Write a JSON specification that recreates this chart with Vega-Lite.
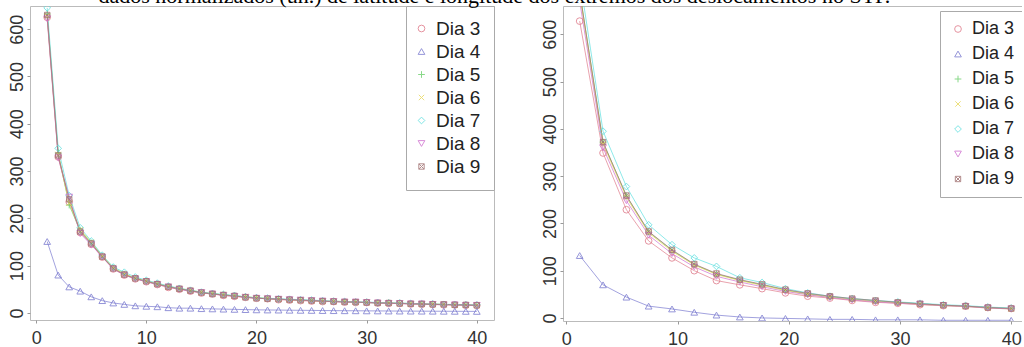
{
"$schema": "https://vega.github.io/schema/vega-lite/v6.json",
"background": "white",
"autosize": {"type": "pad"},
"padding": {"left": 7, "top": -15, "right": -8, "bottom": -2},
"title": {"text": "dados normalizados (un.) de latitude e longitude dos extremos dos deslocamentos no STP.", "font": "Liberation Serif", "fontSize": 22, "fontWeight": "normal", "color": "#000000", "anchor": "start", "dx": 91, "offset": -20, "baseline": "alphabetic"},
"datasets": {
"left": [
{"d":"Dia 3","x":1,"y":625},{"d":"Dia 3","x":2,"y":330},{"d":"Dia 3","x":3,"y":235},{"d":"Dia 3","x":4,"y":170},{"d":"Dia 3","x":5,"y":145},{"d":"Dia 3","x":6,"y":118},{"d":"Dia 3","x":7,"y":93},{"d":"Dia 3","x":8,"y":80},{"d":"Dia 3","x":9,"y":72},{"d":"Dia 3","x":10,"y":66},{"d":"Dia 3","x":11,"y":60},{"d":"Dia 3","x":12,"y":54},{"d":"Dia 3","x":13,"y":50},{"d":"Dia 3","x":14,"y":46},{"d":"Dia 3","x":15,"y":42},{"d":"Dia 3","x":16,"y":40},{"d":"Dia 3","x":17,"y":37},{"d":"Dia 3","x":18,"y":35},{"d":"Dia 3","x":19,"y":33},{"d":"Dia 3","x":20,"y":31},{"d":"Dia 3","x":21,"y":30},{"d":"Dia 3","x":22,"y":28},{"d":"Dia 3","x":23,"y":27},{"d":"Dia 3","x":24,"y":26},{"d":"Dia 3","x":25,"y":25},{"d":"Dia 3","x":26,"y":24},{"d":"Dia 3","x":27,"y":24},{"d":"Dia 3","x":28,"y":23},{"d":"Dia 3","x":29,"y":22},{"d":"Dia 3","x":30,"y":22},{"d":"Dia 3","x":31,"y":21},{"d":"Dia 3","x":32,"y":20},{"d":"Dia 3","x":33,"y":20},{"d":"Dia 3","x":34,"y":19},{"d":"Dia 3","x":35,"y":18},{"d":"Dia 3","x":36,"y":18},{"d":"Dia 3","x":37,"y":17},{"d":"Dia 3","x":38,"y":17},{"d":"Dia 3","x":39,"y":16},{"d":"Dia 3","x":40,"y":16},
{"d":"Dia 4","x":1,"y":151},{"d":"Dia 4","x":2,"y":80},{"d":"Dia 4","x":3,"y":55},{"d":"Dia 4","x":4,"y":46},{"d":"Dia 4","x":5,"y":34},{"d":"Dia 4","x":6,"y":26},{"d":"Dia 4","x":7,"y":21},{"d":"Dia 4","x":8,"y":18},{"d":"Dia 4","x":9,"y":15},{"d":"Dia 4","x":10,"y":14},{"d":"Dia 4","x":11,"y":13},{"d":"Dia 4","x":12,"y":11},{"d":"Dia 4","x":13,"y":10},{"d":"Dia 4","x":14,"y":10},{"d":"Dia 4","x":15,"y":9},{"d":"Dia 4","x":16,"y":8.5},{"d":"Dia 4","x":17,"y":8},{"d":"Dia 4","x":18,"y":7.5},{"d":"Dia 4","x":19,"y":7},{"d":"Dia 4","x":20,"y":6.5},{"d":"Dia 4","x":21,"y":6.2},{"d":"Dia 4","x":22,"y":6},{"d":"Dia 4","x":23,"y":5.7},{"d":"Dia 4","x":24,"y":5.5},{"d":"Dia 4","x":25,"y":5.3},{"d":"Dia 4","x":26,"y":5},{"d":"Dia 4","x":27,"y":4.8},{"d":"Dia 4","x":28,"y":4.6},{"d":"Dia 4","x":29,"y":4.5},{"d":"Dia 4","x":30,"y":4.3},{"d":"Dia 4","x":31,"y":4.2},{"d":"Dia 4","x":32,"y":4},{"d":"Dia 4","x":33,"y":3.9},{"d":"Dia 4","x":34,"y":3.8},{"d":"Dia 4","x":35,"y":3.7},{"d":"Dia 4","x":36,"y":3.6},{"d":"Dia 4","x":37,"y":3.5},{"d":"Dia 4","x":38,"y":3.4},{"d":"Dia 4","x":39,"y":3.3},{"d":"Dia 4","x":40,"y":3.2},
{"d":"Dia 5","x":1,"y":632},{"d":"Dia 5","x":2,"y":338},{"d":"Dia 5","x":3,"y":228},{"d":"Dia 5","x":4,"y":174},{"d":"Dia 5","x":5,"y":148},{"d":"Dia 5","x":6,"y":120},{"d":"Dia 5","x":7,"y":95},{"d":"Dia 5","x":8,"y":82},{"d":"Dia 5","x":9,"y":73},{"d":"Dia 5","x":10,"y":67},{"d":"Dia 5","x":11,"y":61},{"d":"Dia 5","x":12,"y":56},{"d":"Dia 5","x":13,"y":51},{"d":"Dia 5","x":14,"y":47},{"d":"Dia 5","x":15,"y":43},{"d":"Dia 5","x":16,"y":41},{"d":"Dia 5","x":17,"y":38},{"d":"Dia 5","x":18,"y":36},{"d":"Dia 5","x":19,"y":34},{"d":"Dia 5","x":20,"y":32},{"d":"Dia 5","x":21,"y":30},{"d":"Dia 5","x":22,"y":29},{"d":"Dia 5","x":23,"y":28},{"d":"Dia 5","x":24,"y":27},{"d":"Dia 5","x":25,"y":26},{"d":"Dia 5","x":26,"y":25},{"d":"Dia 5","x":27,"y":24},{"d":"Dia 5","x":28,"y":24},{"d":"Dia 5","x":29,"y":23},{"d":"Dia 5","x":30,"y":22},{"d":"Dia 5","x":31,"y":21},{"d":"Dia 5","x":32,"y":21},{"d":"Dia 5","x":33,"y":20},{"d":"Dia 5","x":34,"y":20},{"d":"Dia 5","x":35,"y":19},{"d":"Dia 5","x":36,"y":18},{"d":"Dia 5","x":37,"y":18},{"d":"Dia 5","x":38,"y":17},{"d":"Dia 5","x":39,"y":17},{"d":"Dia 5","x":40,"y":16},
{"d":"Dia 6","x":1,"y":628},{"d":"Dia 6","x":2,"y":335},{"d":"Dia 6","x":3,"y":232},{"d":"Dia 6","x":4,"y":176},{"d":"Dia 6","x":5,"y":150},{"d":"Dia 6","x":6,"y":121},{"d":"Dia 6","x":7,"y":96},{"d":"Dia 6","x":8,"y":83},{"d":"Dia 6","x":9,"y":74},{"d":"Dia 6","x":10,"y":68},{"d":"Dia 6","x":11,"y":62},{"d":"Dia 6","x":12,"y":56},{"d":"Dia 6","x":13,"y":52},{"d":"Dia 6","x":14,"y":48},{"d":"Dia 6","x":15,"y":44},{"d":"Dia 6","x":16,"y":41},{"d":"Dia 6","x":17,"y":38},{"d":"Dia 6","x":18,"y":36},{"d":"Dia 6","x":19,"y":34},{"d":"Dia 6","x":20,"y":32},{"d":"Dia 6","x":21,"y":31},{"d":"Dia 6","x":22,"y":29},{"d":"Dia 6","x":23,"y":28},{"d":"Dia 6","x":24,"y":27},{"d":"Dia 6","x":25,"y":26},{"d":"Dia 6","x":26,"y":25},{"d":"Dia 6","x":27,"y":25},{"d":"Dia 6","x":28,"y":24},{"d":"Dia 6","x":29,"y":23},{"d":"Dia 6","x":30,"y":22},{"d":"Dia 6","x":31,"y":22},{"d":"Dia 6","x":32,"y":21},{"d":"Dia 6","x":33,"y":20},{"d":"Dia 6","x":34,"y":20},{"d":"Dia 6","x":35,"y":19},{"d":"Dia 6","x":36,"y":19},{"d":"Dia 6","x":37,"y":18},{"d":"Dia 6","x":38,"y":17},{"d":"Dia 6","x":39,"y":17},{"d":"Dia 6","x":40,"y":16},
{"d":"Dia 7","x":1,"y":645},{"d":"Dia 7","x":2,"y":348},{"d":"Dia 7","x":3,"y":248},{"d":"Dia 7","x":4,"y":180},{"d":"Dia 7","x":5,"y":152},{"d":"Dia 7","x":6,"y":122},{"d":"Dia 7","x":7,"y":97},{"d":"Dia 7","x":8,"y":86},{"d":"Dia 7","x":9,"y":76},{"d":"Dia 7","x":10,"y":69},{"d":"Dia 7","x":11,"y":63},{"d":"Dia 7","x":12,"y":57},{"d":"Dia 7","x":13,"y":52},{"d":"Dia 7","x":14,"y":48},{"d":"Dia 7","x":15,"y":44},{"d":"Dia 7","x":16,"y":41},{"d":"Dia 7","x":17,"y":39},{"d":"Dia 7","x":18,"y":37},{"d":"Dia 7","x":19,"y":34},{"d":"Dia 7","x":20,"y":32},{"d":"Dia 7","x":21,"y":31},{"d":"Dia 7","x":22,"y":30},{"d":"Dia 7","x":23,"y":29},{"d":"Dia 7","x":24,"y":28},{"d":"Dia 7","x":25,"y":27},{"d":"Dia 7","x":26,"y":26},{"d":"Dia 7","x":27,"y":25},{"d":"Dia 7","x":28,"y":24},{"d":"Dia 7","x":29,"y":23},{"d":"Dia 7","x":30,"y":23},{"d":"Dia 7","x":31,"y":22},{"d":"Dia 7","x":32,"y":21},{"d":"Dia 7","x":33,"y":21},{"d":"Dia 7","x":34,"y":20},{"d":"Dia 7","x":35,"y":19},{"d":"Dia 7","x":36,"y":19},{"d":"Dia 7","x":37,"y":18},{"d":"Dia 7","x":38,"y":18},{"d":"Dia 7","x":39,"y":17},{"d":"Dia 7","x":40,"y":17},
{"d":"Dia 8","x":1,"y":622},{"d":"Dia 8","x":2,"y":328},{"d":"Dia 8","x":3,"y":245},{"d":"Dia 8","x":4,"y":168},{"d":"Dia 8","x":5,"y":144},{"d":"Dia 8","x":6,"y":118},{"d":"Dia 8","x":7,"y":93},{"d":"Dia 8","x":8,"y":80},{"d":"Dia 8","x":9,"y":72},{"d":"Dia 8","x":10,"y":66},{"d":"Dia 8","x":11,"y":60},{"d":"Dia 8","x":12,"y":55},{"d":"Dia 8","x":13,"y":50},{"d":"Dia 8","x":14,"y":46},{"d":"Dia 8","x":15,"y":43},{"d":"Dia 8","x":16,"y":40},{"d":"Dia 8","x":17,"y":37},{"d":"Dia 8","x":18,"y":35},{"d":"Dia 8","x":19,"y":33},{"d":"Dia 8","x":20,"y":31},{"d":"Dia 8","x":21,"y":30},{"d":"Dia 8","x":22,"y":29},{"d":"Dia 8","x":23,"y":28},{"d":"Dia 8","x":24,"y":27},{"d":"Dia 8","x":25,"y":26},{"d":"Dia 8","x":26,"y":25},{"d":"Dia 8","x":27,"y":24},{"d":"Dia 8","x":28,"y":23},{"d":"Dia 8","x":29,"y":23},{"d":"Dia 8","x":30,"y":22},{"d":"Dia 8","x":31,"y":21},{"d":"Dia 8","x":32,"y":20},{"d":"Dia 8","x":33,"y":20},{"d":"Dia 8","x":34,"y":19},{"d":"Dia 8","x":35,"y":19},{"d":"Dia 8","x":36,"y":18},{"d":"Dia 8","x":37,"y":17},{"d":"Dia 8","x":38,"y":17},{"d":"Dia 8","x":39,"y":16},{"d":"Dia 8","x":40,"y":16},
{"d":"Dia 9","x":1,"y":630},{"d":"Dia 9","x":2,"y":333},{"d":"Dia 9","x":3,"y":240},{"d":"Dia 9","x":4,"y":172},{"d":"Dia 9","x":5,"y":147},{"d":"Dia 9","x":6,"y":119},{"d":"Dia 9","x":7,"y":94},{"d":"Dia 9","x":8,"y":81},{"d":"Dia 9","x":9,"y":73},{"d":"Dia 9","x":10,"y":67},{"d":"Dia 9","x":11,"y":61},{"d":"Dia 9","x":12,"y":55},{"d":"Dia 9","x":13,"y":51},{"d":"Dia 9","x":14,"y":47},{"d":"Dia 9","x":15,"y":43},{"d":"Dia 9","x":16,"y":40},{"d":"Dia 9","x":17,"y":38},{"d":"Dia 9","x":18,"y":36},{"d":"Dia 9","x":19,"y":33},{"d":"Dia 9","x":20,"y":31},{"d":"Dia 9","x":21,"y":30},{"d":"Dia 9","x":22,"y":29},{"d":"Dia 9","x":23,"y":28},{"d":"Dia 9","x":24,"y":27},{"d":"Dia 9","x":25,"y":26},{"d":"Dia 9","x":26,"y":25},{"d":"Dia 9","x":27,"y":24},{"d":"Dia 9","x":28,"y":23},{"d":"Dia 9","x":29,"y":23},{"d":"Dia 9","x":30,"y":22},{"d":"Dia 9","x":31,"y":21},{"d":"Dia 9","x":32,"y":21},{"d":"Dia 9","x":33,"y":20},{"d":"Dia 9","x":34,"y":19},{"d":"Dia 9","x":35,"y":19},{"d":"Dia 9","x":36,"y":18},{"d":"Dia 9","x":37,"y":18},{"d":"Dia 9","x":38,"y":17},{"d":"Dia 9","x":39,"y":17},{"d":"Dia 9","x":40,"y":16}
],
"right": [
{"d":"Dia 3","x":1.2,"y":628},{"d":"Dia 3","x":3.3,"y":349},{"d":"Dia 3","x":5.4,"y":229},{"d":"Dia 3","x":7.4,"y":163},{"d":"Dia 3","x":9.5,"y":127},{"d":"Dia 3","x":11.5,"y":100},{"d":"Dia 3","x":13.5,"y":79},{"d":"Dia 3","x":15.6,"y":70},{"d":"Dia 3","x":17.6,"y":62},{"d":"Dia 3","x":19.7,"y":53},{"d":"Dia 3","x":21.7,"y":46},{"d":"Dia 3","x":23.7,"y":42},{"d":"Dia 3","x":25.7,"y":37},{"d":"Dia 3","x":27.8,"y":33},{"d":"Dia 3","x":29.8,"y":31},{"d":"Dia 3","x":31.8,"y":28},{"d":"Dia 3","x":33.9,"y":26},{"d":"Dia 3","x":35.9,"y":25},{"d":"Dia 3","x":37.9,"y":22},{"d":"Dia 3","x":40,"y":20},
{"d":"Dia 4","x":1.2,"y":132},{"d":"Dia 4","x":3.3,"y":70},{"d":"Dia 4","x":5.4,"y":44},{"d":"Dia 4","x":7.4,"y":25},{"d":"Dia 4","x":9.5,"y":19},{"d":"Dia 4","x":11.5,"y":12},{"d":"Dia 4","x":13.5,"y":6},{"d":"Dia 4","x":15.6,"y":2},{"d":"Dia 4","x":17.6,"y":0},{"d":"Dia 4","x":19.7,"y":-1},{"d":"Dia 4","x":21.7,"y":-2},{"d":"Dia 4","x":23.7,"y":-3},{"d":"Dia 4","x":25.7,"y":-3},{"d":"Dia 4","x":27.8,"y":-4},{"d":"Dia 4","x":29.8,"y":-4},{"d":"Dia 4","x":31.8,"y":-4},{"d":"Dia 4","x":33.9,"y":-5},{"d":"Dia 4","x":35.9,"y":-5},{"d":"Dia 4","x":37.9,"y":-5},{"d":"Dia 4","x":40,"y":-5},
{"d":"Dia 5","x":1.2,"y":690},{"d":"Dia 5","x":3.3,"y":372},{"d":"Dia 5","x":5.4,"y":258},{"d":"Dia 5","x":7.4,"y":182},{"d":"Dia 5","x":9.5,"y":143},{"d":"Dia 5","x":11.5,"y":113},{"d":"Dia 5","x":13.5,"y":93},{"d":"Dia 5","x":15.6,"y":80},{"d":"Dia 5","x":17.6,"y":70},{"d":"Dia 5","x":19.7,"y":59},{"d":"Dia 5","x":21.7,"y":51},{"d":"Dia 5","x":23.7,"y":45},{"d":"Dia 5","x":25.7,"y":40},{"d":"Dia 5","x":27.8,"y":36},{"d":"Dia 5","x":29.8,"y":33},{"d":"Dia 5","x":31.8,"y":30},{"d":"Dia 5","x":33.9,"y":27},{"d":"Dia 5","x":35.9,"y":25},{"d":"Dia 5","x":37.9,"y":22},{"d":"Dia 5","x":40,"y":20},
{"d":"Dia 6","x":1.2,"y":685},{"d":"Dia 6","x":3.3,"y":368},{"d":"Dia 6","x":5.4,"y":255},{"d":"Dia 6","x":7.4,"y":180},{"d":"Dia 6","x":9.5,"y":141},{"d":"Dia 6","x":11.5,"y":112},{"d":"Dia 6","x":13.5,"y":92},{"d":"Dia 6","x":15.6,"y":79},{"d":"Dia 6","x":17.6,"y":69},{"d":"Dia 6","x":19.7,"y":58},{"d":"Dia 6","x":21.7,"y":50},{"d":"Dia 6","x":23.7,"y":44},{"d":"Dia 6","x":25.7,"y":39},{"d":"Dia 6","x":27.8,"y":35},{"d":"Dia 6","x":29.8,"y":32},{"d":"Dia 6","x":31.8,"y":29},{"d":"Dia 6","x":33.9,"y":26},{"d":"Dia 6","x":35.9,"y":24},{"d":"Dia 6","x":37.9,"y":21},{"d":"Dia 6","x":40,"y":19},
{"d":"Dia 7","x":1.2,"y":720},{"d":"Dia 7","x":3.3,"y":395},{"d":"Dia 7","x":5.4,"y":278},{"d":"Dia 7","x":7.4,"y":197},{"d":"Dia 7","x":9.5,"y":155},{"d":"Dia 7","x":11.5,"y":127},{"d":"Dia 7","x":13.5,"y":109},{"d":"Dia 7","x":15.6,"y":85},{"d":"Dia 7","x":17.6,"y":75},{"d":"Dia 7","x":19.7,"y":62},{"d":"Dia 7","x":21.7,"y":53},{"d":"Dia 7","x":23.7,"y":46},{"d":"Dia 7","x":25.7,"y":41},{"d":"Dia 7","x":27.8,"y":37},{"d":"Dia 7","x":29.8,"y":34},{"d":"Dia 7","x":31.8,"y":31},{"d":"Dia 7","x":33.9,"y":28},{"d":"Dia 7","x":35.9,"y":26},{"d":"Dia 7","x":37.9,"y":23},{"d":"Dia 7","x":40,"y":21},
{"d":"Dia 8","x":1.2,"y":670},{"d":"Dia 8","x":3.3,"y":360},{"d":"Dia 8","x":5.4,"y":248},{"d":"Dia 8","x":7.4,"y":175},{"d":"Dia 8","x":9.5,"y":136},{"d":"Dia 8","x":11.5,"y":108},{"d":"Dia 8","x":13.5,"y":88},{"d":"Dia 8","x":15.6,"y":76},{"d":"Dia 8","x":17.6,"y":66},{"d":"Dia 8","x":19.7,"y":56},{"d":"Dia 8","x":21.7,"y":49},{"d":"Dia 8","x":23.7,"y":43},{"d":"Dia 8","x":25.7,"y":38},{"d":"Dia 8","x":27.8,"y":34},{"d":"Dia 8","x":29.8,"y":31},{"d":"Dia 8","x":31.8,"y":29},{"d":"Dia 8","x":33.9,"y":26},{"d":"Dia 8","x":35.9,"y":24},{"d":"Dia 8","x":37.9,"y":21},{"d":"Dia 8","x":40,"y":19},
{"d":"Dia 9","x":1.2,"y":690},{"d":"Dia 9","x":3.3,"y":372},{"d":"Dia 9","x":5.4,"y":259},{"d":"Dia 9","x":7.4,"y":183},{"d":"Dia 9","x":9.5,"y":144},{"d":"Dia 9","x":11.5,"y":114},{"d":"Dia 9","x":13.5,"y":94},{"d":"Dia 9","x":15.6,"y":81},{"d":"Dia 9","x":17.6,"y":71},{"d":"Dia 9","x":19.7,"y":60},{"d":"Dia 9","x":21.7,"y":52},{"d":"Dia 9","x":23.7,"y":46},{"d":"Dia 9","x":25.7,"y":41},{"d":"Dia 9","x":27.8,"y":37},{"d":"Dia 9","x":29.8,"y":33},{"d":"Dia 9","x":31.8,"y":30},{"d":"Dia 9","x":33.9,"y":27},{"d":"Dia 9","x":35.9,"y":25},{"d":"Dia 9","x":37.9,"y":22},{"d":"Dia 9","x":40,"y":20}
]
},
"spacing": 69,
"bounds": "flush",
"hconcat": [
{
"width": 464, "height": 314,
"data": {"name": "left"},
"encoding": {
"x": {"field": "x", "type": "quantitative", "scale": {"domain": [-0.56, 41.56], "nice": false, "zero": false}, "axis": {"values": [0, 10, 20, 30, 40], "labelAngle": 0, "labelPadding": 6, "labelFlush": false}},
"y": {"field": "y", "type": "quantitative", "scale": {"domain": [-15, 649], "nice": false, "zero": false}, "axis": {"values": [0, 100, 200, 300, 400, 500, 600], "labelAngle": 270, "labelAlign": "center", "labelBaseline": "alphabetic", "labelPadding": 5, "labelFlush": false}},
"color": {"field": "d", "type": "nominal", "scale": {"domain": ["Dia 3", "Dia 4", "Dia 5", "Dia 6", "Dia 7", "Dia 8", "Dia 9"], "range": ["#e07a8a", "#7b7bd0", "#6cd06c", "#e8d85a", "#5ee0e0", "#d070d0", "#a07070"]}, "legend": {"title": null, "orient": "top-right", "offset": 0, "padding": 13, "labelFontSize": 19, "rowPadding": 3, "labelOffset": 5, "symbolOffset": -7}}
},
"layer": [
{"mark": {"type": "line", "clip": true, "strokeWidth": 1, "opacity": 0.7}},
{"mark": {"type": "point", "clip": true, "filled": false, "size": 45, "strokeWidth": 1, "opacity": 0.8},
 "encoding": {"shape": {"field": "d", "type": "nominal", "scale": {"domain": ["Dia 3", "Dia 4", "Dia 5", "Dia 6", "Dia 7", "Dia 8", "Dia 9"], "range": ["circle", "triangle-up", "M-1,0H1M0,-1V1", "M-0.8,-0.8L0.8,0.8M-0.8,0.8L0.8,-0.8", "diamond", "triangle-down", "M-0.8,-0.8H0.8V0.8H-0.8ZM-0.8,-0.8L0.8,0.8M-0.8,0.8L0.8,-0.8"]}, "legend": {"title": null, "orient": "top-right", "offset": 0, "padding": 13, "labelFontSize": 19, "rowPadding": 3, "labelOffset": 5, "symbolOffset": -7}}}}
]
},
{
"width": 466, "height": 315,
"data": {"name": "right"},
"encoding": {
"x": {"field": "x", "type": "quantitative", "scale": {"domain": [-0.3, 41.6], "nice": false, "zero": false}, "axis": {"values": [0, 10, 20, 30, 40], "labelAngle": 0, "labelPadding": 6, "labelFlush": false}},
"y": {"field": "y", "type": "quantitative", "scale": {"domain": [-6.5, 660], "nice": false, "zero": false}, "axis": {"values": [0, 100, 200, 300, 400, 500, 600], "labelAngle": 270, "labelAlign": "center", "labelBaseline": "alphabetic", "labelPadding": 5, "labelFlush": false}},
"color": {"field": "d", "type": "nominal", "scale": {"domain": ["Dia 3", "Dia 4", "Dia 5", "Dia 6", "Dia 7", "Dia 8", "Dia 9"], "range": ["#e07a8a", "#7b7bd0", "#6cd06c", "#e8d85a", "#5ee0e0", "#d070d0", "#a07070"]}, "legend": {"title": null, "orient": "top-right", "offset": 5, "padding": 9, "labelFontSize": 18, "rowPadding": 7, "labelOffset": 5, "symbolOffset": 0}}
},
"layer": [
{"mark": {"type": "line", "clip": true, "strokeWidth": 1, "opacity": 0.7}},
{"mark": {"type": "point", "clip": true, "filled": false, "size": 45, "strokeWidth": 1, "opacity": 0.8},
 "encoding": {"shape": {"field": "d", "type": "nominal", "scale": {"domain": ["Dia 3", "Dia 4", "Dia 5", "Dia 6", "Dia 7", "Dia 8", "Dia 9"], "range": ["circle", "triangle-up", "M-1,0H1M0,-1V1", "M-0.8,-0.8L0.8,0.8M-0.8,0.8L0.8,-0.8", "diamond", "triangle-down", "M-0.8,-0.8H0.8V0.8H-0.8ZM-0.8,-0.8L0.8,0.8M-0.8,0.8L0.8,-0.8"]}, "legend": {"title": null, "orient": "top-right", "offset": 5, "padding": 9, "labelFontSize": 18, "rowPadding": 7, "labelOffset": 5, "symbolOffset": 0}}}}
]
}
],
"resolve": {"scale": {"color": "independent", "shape": "independent"}, "legend": {"color": "independent", "shape": "independent"}},
"config": {
"view": {"stroke": "#bbbbbb", "strokeWidth": 1},
"axis": {"grid": false, "domain": false, "tickColor": "#999999", "tickSize": 3, "labelFont": "Liberation Sans", "labelFontSize": 18, "labelColor": "#333333", "title": null},
"legend": {"strokeColor": "#aaaaaa", "fillColor": "#ffffff", "labelFont": "Liberation Sans", "labelColor": "#222222", "symbolSize": 45, "symbolStrokeWidth": 1, "symbolOpacity": 0.8, "cornerRadius": 0}
}
}
